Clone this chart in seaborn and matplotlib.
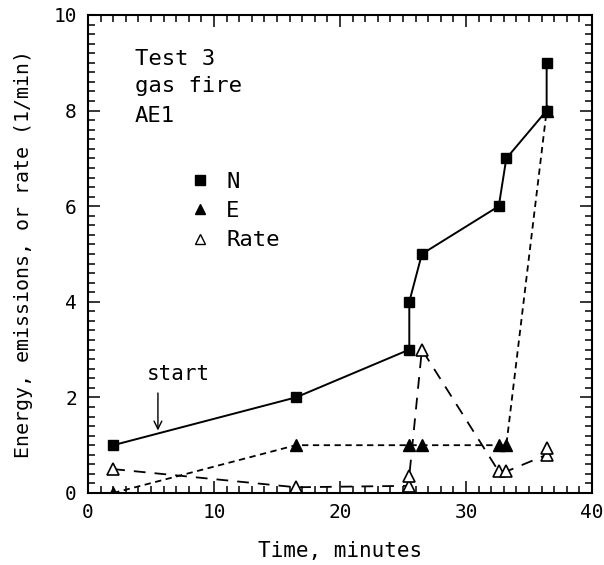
import matplotlib
matplotlib.use("Agg")
import matplotlib.pyplot as plt
from matplotlib.lines import Line2D
from matplotlib.ticker import MultipleLocator
import seaborn as sns
import pandas as pd

# Measurements for test 3 (gas fire, sensor AE1)
time_n = [2.0, 16.5, 25.5, 25.5, 26.5, 32.6, 33.2, 36.4, 36.4]
n_vals = [1, 2, 3, 4, 5, 6, 7, 8, 9]

time_e = [2.0, 16.5, 25.5, 26.5, 32.6, 33.2, 36.4]
e_vals = [0, 1, 1, 1, 1, 1, 8]

time_rate = [2.0, 16.5, 25.5, 25.5, 26.5, 32.6, 33.2, 36.4, 36.4]
rate_vals = [0.5, 0.12, 0.15, 0.36, 3.0, 0.45, 0.45, 0.8, 0.95]

x_ticks = [0, 10, 20, 30, 40]
y_ticks = [0, 2, 4, 6, 8, 10]

sns.set_theme(style="ticks")
plt.rcParams["font.family"] = ["DejaVu Sans Mono", "DejaVu Sans"]
plt.rcParams["text.color"] = "black"

fig = plt.figure(figsize=(6.04, 5.65), dpi=100)
ax = fig.add_axes([88 / 604, 1 - 493 / 565, 504 / 604, 478 / 565])

df_n = pd.DataFrame({"t": time_n, "v": n_vals})
df_e = pd.DataFrame({"t": time_e, "v": e_vals})
df_r = pd.DataFrame({"t": time_rate, "v": rate_vals})

common = dict(estimator=None, sort=False, ax=ax, color="black", legend=False)

sns.lineplot(data=df_r, x="t", y="v", marker="^", markersize=8,
             markerfacecolor="white", markeredgecolor="black",
             markeredgewidth=1.2, linewidth=1.3,
             linestyle=(0, (6.5, 5)), **common)
sns.lineplot(data=df_e, x="t", y="v", marker="^", markersize=8,
             markerfacecolor="black", markeredgecolor="black",
             markeredgewidth=1.0, linewidth=1.3,
             linestyle=(0, (3.5, 2.5)), **common)
sns.lineplot(data=df_n, x="t", y="v", marker="s", markersize=7,
             markerfacecolor="black", markeredgecolor="black",
             markeredgewidth=1.0, linewidth=1.4,
             linestyle="-", **common)

ax.set_xlim(0, 40)
ax.set_ylim(0, 10)
ax.set_xticks(x_ticks)
ax.set_yticks(y_ticks)
ax.xaxis.set_minor_locator(MultipleLocator(1))
ax.yaxis.set_minor_locator(MultipleLocator(0.2))
ax.tick_params(which="both", direction="in", top=True, right=True,
               bottom=True, left=True, color="black", width=1.1,
               labelsize=14, labelcolor="black")
ax.tick_params(which="major", length=8.5)
ax.tick_params(axis="x", which="major", pad=7)
ax.tick_params(axis="y", which="major", pad=8)
ax.tick_params(which="minor", length=5)
for s in ax.spines.values():
    s.set_color("black")
    s.set_linewidth(1.5)

ax.set_xlabel("Time, minutes", fontsize=15, color="black")
ax.xaxis.set_label_coords(0.5, -0.101)
ax.set_ylabel("Energy, emissions, or rate (1/min)", fontsize=14.3,
              color="black")
ax.yaxis.set_label_coords(-0.109, 0.5)

ax.text(3.7, 8.95, "Test 3", fontsize=16, va="baseline", ha="left",
        color="black")
ax.text(3.7, 8.38, "gas fire", fontsize=16, va="baseline", ha="left",
        color="black")
ax.text(3.7, 7.76, "AE1", fontsize=16, va="baseline", ha="left",
        color="black")

ax.text(7.15, 2.37, "start", fontsize=15, ha="center", va="baseline",
        color="black")
ax.annotate("", xy=(5.55, 1.25), xytext=(5.55, 2.15),
            arrowprops=dict(arrowstyle="->", lw=1.0, color="black",
                            mutation_scale=14))

handles = [
    Line2D([], [], marker="s", ls="none", color="black", ms=6.5),
    Line2D([], [], marker="^", ls="none", color="black", ms=7),
    Line2D([], [], marker="^", ls="none", color="black", ms=7,
           markerfacecolor="white", markeredgewidth=1.0),
]
ax.legend(handles, ["N", "E", "Rate"], loc="upper left",
          bbox_to_anchor=(0.2, 0.672), frameon=False, fontsize=16,
          handlelength=1.0, handletextpad=0.68, labelspacing=0.42,
          borderpad=0, borderaxespad=0, labelcolor="black")

fig.savefig("out.png", dpi=100, facecolor="white")
